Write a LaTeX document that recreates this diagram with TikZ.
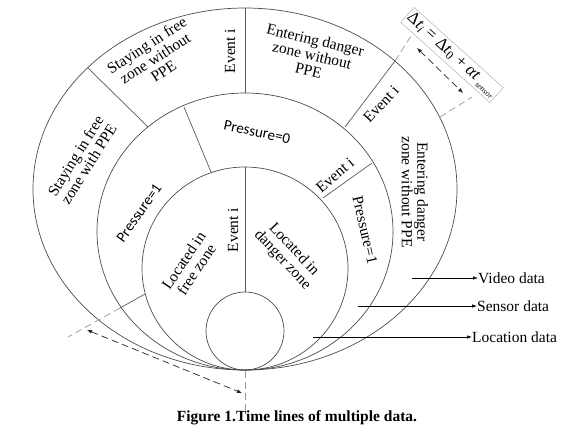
\documentclass[tikz,border=0pt]{standalone}
\usepackage{fontspec}
\setmainfont{Liberation Serif}
\newfontfamily\pressfont{Carlito}
\usetikzlibrary{arrows.meta, positioning}

\begin{document}
\begin{tikzpicture}[x=1pt, y=1pt,
    ring/.style={draw=black!70, line width=0.7pt},
    divider/.style={draw=black!65, line width=0.7pt},
    guide/.style={draw=black!40, line width=0.7pt, dash pattern=on 7pt off 4pt},
    span/.style={draw=black!85, line width=0.7pt, dash pattern=on 7pt off 4pt,
      {Latex[length=5pt,width=4pt]}-{Latex[length=5pt,width=4pt]}},
    lbl/.style={font=\fontsize{15.5}{15.5}\selectfont, align=center, inner sep=0pt},
    feed/.style={draw=black, line width=0.7pt, -{Latex[length=5pt,width=3.5pt]}},
    feedlbl/.style={font=\fontsize{15.5}{16}\selectfont, anchor=west, inner sep=0pt}]

  \useasboundingbox (0,0) rectangle (573,-437);

  % the four time lines, all touching at the bottom
  \draw[ring] (245,-189) ellipse [x radius=212, y radius=181];
  \draw[ring] (245,-231.5) ellipse [x radius=148, y radius=138.5];
  \draw[ring] (245,-268.5) ellipse [x radius=103, y radius=101.5];
  \draw[ring] (245,-331) circle [radius=39];

  % events cutting the rings
  \draw[divider] (88,-68) -- (148,-127);
  \draw[divider] (245,-8) -- (245,-93);
  \draw[divider] (395,-61) -- (345,-127);
  \draw[divider] (184,-107) -- (211,-172);
  \draw[divider] (372,-163) -- (323,-198);
  \draw[divider] (245,-167) -- (245,-292);
  \draw[divider] (145,-294) -- (120,-308);

  % delay marks
  \draw[guide] (120,-308) -- (68,-337);
  \draw[guide] (245,-371) -- (245,-410);
  \draw[guide] (395,-61) -- (411,-36);
  \draw[guide] (440,-117) -- (472,-97);
  \draw[span] (417,-48) -- (463,-93);
  \draw[span] (87,-330) -- (242,-393);

  \node[draw=black!35, rotate=-42, minimum width=120, minimum height=20, inner sep=0.5pt,
    font=\fontsize{17}{17}\selectfont] (delay) at (452,-55)
    {Δ\emph{t}\textsubscript{\emph{i}} = Δ\emph{t}\textsubscript{0} + \emph{αt}\,{\fontsize{8}{8}\selectfont\raisebox{-4pt}{\emph{sensor}}}};

  % video ring
  \node[lbl, rotate=33] (freenoppe) at (155,-58) {Staying in free\\zone without\\PPE};
  \node[lbl, rotate=90] (evtop) at (230,-51) {Event i};
  \node[lbl, rotate=-13] (dangtop) at (312,-55) {Entering danger\\zone without\\PPE};
  \node[lbl, rotate=47] (evouter) at (381,-104) {Event i};
  \node[lbl, rotate=-90] (dangright) at (415,-192) {Entering danger\\zone without PPE};
  \node[lbl, rotate=58] (freeppe) at (82,-160) {Staying in free\\zone with PPE};

  % sensor ring
  \node[lbl, rotate=-12, font=\pressfont\fontsize{15}{15.5}\selectfont] (pzero) at (257,-132) {Pressure=0};
  \node[lbl, rotate=55, font=\pressfont\fontsize{15}{15.5}\selectfont] (poneleft) at (139,-213) {Pressure=1};
  \node[lbl, rotate=40] (evmid) at (335,-175) {Event i};
  \node[lbl, rotate=-77] (poneright) at (365,-230) {Pressure=1};

  % location disk
  \node[lbl, rotate=56] (locfree) at (190,-265) {Located in\\free zone};
  \node[lbl, rotate=90] (evinner) at (233,-230) {Event i};
  \node[lbl, rotate=-47] (locdanger) at (288,-255) {Located in\\danger zone};

  % legend
  \coordinate (vidtail) at (412,-278);
  \coordinate (sentail) at (358,-306);
  \coordinate (loctail) at (313,-337);
  \node[feedlbl] (video) at (478,-278) {Video data};
  \node[feedlbl] (sensor) at (477,-306) {Sensor data};
  \node[feedlbl] (location) at (472,-337) {Location data};
  \draw[feed] (vidtail) -- (video.west);
  \draw[feed] (sentail) -- (sensor.west);
  \draw[feed] (loctail) -- (location.west);

  \node[font=\fontsize{15.5}{15.5}\bfseries] (caption) at (297,-418) {Figure 1.Time lines of multiple data.};
\end{tikzpicture}
\end{document}
